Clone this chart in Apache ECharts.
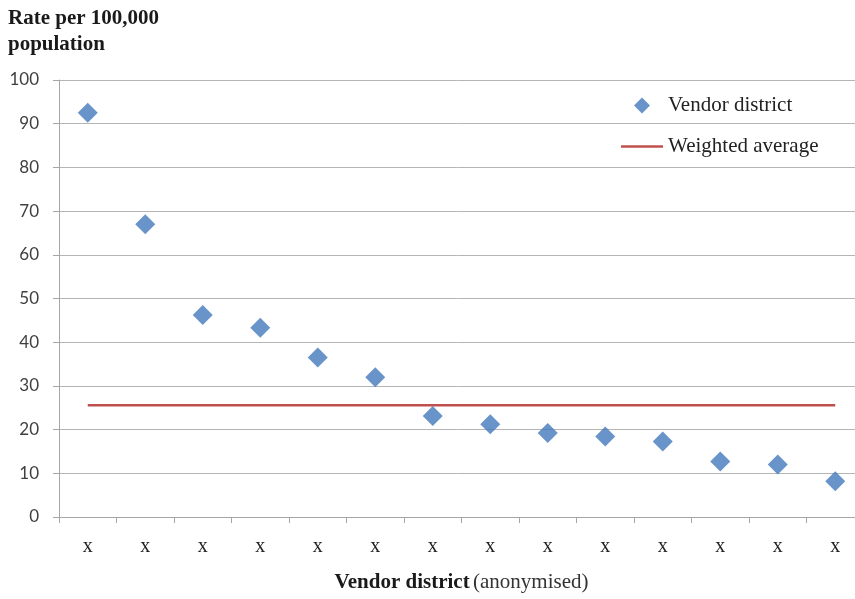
<!DOCTYPE html>
<html><head><meta charset="utf-8">
<script src="https://cdn.jsdelivr.net/npm/echarts@6/dist/echarts.min.js"></script>
<style>html,body{margin:0;padding:0;background:#fff}#c{width:855px;height:599px}</style>
</head><body><div id="c"></div>
<script>
const categories = ['x','x','x','x','x','x','x','x','x','x','x','x','x','x'];
const vendorRates = [92.5, 67.0, 46.2, 43.3, 36.5, 32.0, 23.1, 21.2, 19.2, 18.4, 17.3, 12.7, 12.0, 8.2];
const weightedAverage = 25.6;
const avgLine = categories.map(() => weightedAverage);
const yTicks = {min: 0, max: 100, interval: 10};

const serif = '"Liberation Serif", "DejaVu Serif", serif';
const sans = 'Lato, "Liberation Sans", sans-serif';

const chart = echarts.init(document.getElementById('c'), null, {renderer: 'canvas'});
chart.setOption({
  backgroundColor: '#fff',
  animation: false,
  title: {
    text: 'Rate per 100,000\npopulation',
    left: 8, top: 6, padding: 0,
    textStyle: {fontFamily: serif, fontWeight: 'bold', fontSize: 21, lineHeight: 26, color: '#1a1a1a'}
  },
  legend: {
    orient: 'vertical',
    left: 621, top: 95, padding: 0,
    itemWidth: 42, itemHeight: 16, itemGap: 20,
    symbolKeepAspect: true,
    textStyle: {fontFamily: serif, fontSize: 21, color: '#222', padding: [0,0,0,0]},
    data: [
      {name: 'Vendor district', icon: 'path://M0,-1L1,0L0,1L-1,0Z'},
      {name: 'Weighted average', icon: 'path://M0,0H42V2.6H0Z'}
    ]
  },
  grid: {left: 59, top: 80, width: 805, height: 437, outerBoundsMode: 'none', containLabel: false},
  xAxis: {
    type: 'category',
    data: categories,
    boundaryGap: true,
    axisLine: {lineStyle: {color: '#a6a6a6', width: 1}},
    axisTick: {show: true, length: 6, lineStyle: {color: '#a6a6a6'}},
    axisLabel: {fontFamily: serif, fontSize: 20, color: '#222', margin: 20},
    name: '{b|Vendor district} {n|(anonymised)}',
    nameLocation: 'middle',
    nameGap: 55,
    nameTextStyle: {
      rich: {
        b: {fontFamily: serif, fontWeight: 'bold', fontSize: 21, color: '#1a1a1a'},
        n: {fontFamily: serif, fontSize: 21, color: '#333'}
      }
    }
  },
  yAxis: {
    type: 'value',
    min: yTicks.min, max: yTicks.max, interval: yTicks.interval,
    axisLine: {show: true, lineStyle: {color: '#a6a6a6', width: 1}},
    axisTick: {show: true, length: 6, lineStyle: {color: '#a6a6a6'}},
    axisLabel: {fontFamily: sans, fontSize: 17, color: '#404040', margin: 20},
    splitLine: {lineStyle: {color: '#b5b5b5', width: 1}}
  },
  series: [
    {
      name: 'Vendor district',
      type: 'scatter',
      data: vendorRates,
      symbol: 'diamond',
      symbolSize: [20, 20],
      itemStyle: {color: '#4279bb'},
      z: 3
    },
    {
      name: 'Weighted average',
      type: 'line',
      data: avgLine,
      symbol: 'none',
      showSymbol: false,
      lineStyle: {color: '#c0504d', width: 2.5},
      itemStyle: {color: '#c0504d'},
      z: 2
    }
  ]
});
</script></body></html>
